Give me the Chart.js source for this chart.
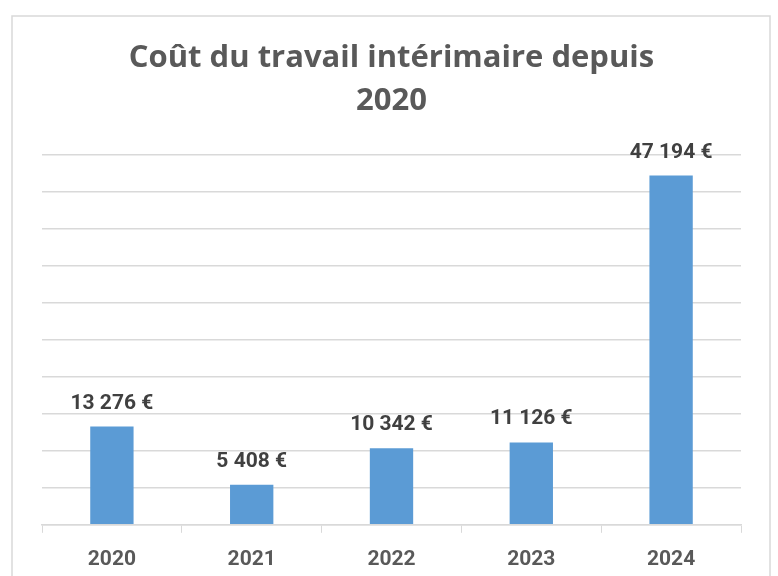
<!DOCTYPE html>
<html>
<head>
<meta charset="utf-8">
<script src="https://cdn.jsdelivr.net/npm/chart.js@4.4.0/dist/chart.umd.min.js"></script>
<style>
  body { margin: 0; background: #fff; }
  #wrap { width: 778px; height: 576px; }
</style>
</head>
<body>
<div id="wrap"><canvas id="costChart" width="778" height="576"></canvas></div>
<script>
const years = ["2020", "2021", "2022", "2023", "2024"];
const costs = [13276, 5408, 10342, 11126, 47194];
const chartTitle = ["Coût du travail intérimaire depuis", "2020"];

const fontName = "Roboto, 'Open Sans', sans-serif";
const titleFont = "'Open Sans', Roboto, sans-serif";

// 13276 -> "13 276 €"
function formatEuro(v) {
  return String(v).replace(/\B(?=(\d{3})+(?!\d))/g, " ") + " €";
}

// frame around the whole chart, like the office chart box
const framePlugin = {
  id: "frame",
  beforeDraw(chart) {
    const ctx = chart.ctx;
    ctx.save();
    ctx.fillStyle = "#fff";
    ctx.fillRect(0, 0, chart.width, chart.height);
    ctx.strokeStyle = "#d9d9d9";
    ctx.lineWidth = 1.5;
    ctx.strokeRect(12, 16, 758, 600);
    ctx.restore();
  }
};

// value labels above each bar
const valueLabels = {
  id: "valueLabels",
  afterDatasetsDraw(chart) {
    const ctx = chart.ctx;
    const meta = chart.getDatasetMeta(0);
    ctx.save();
    ctx.font = "bold 21px " + fontName;
    ctx.fillStyle = "#404040";
    ctx.textAlign = "center";
    ctx.textBaseline = "alphabetic";
    meta.data.forEach((bar, i) => {
      ctx.fillText(formatEuro(costs[i]), bar.x, bar.y - 18);
    });
    ctx.restore();
  }
};

const ctx = document.getElementById("costChart").getContext("2d");
const costChart = new Chart(ctx, {
  type: "bar",
  data: {
    labels: years,
    datasets: [{
      data: costs,
      backgroundColor: "#5b9bd5",
      barPercentage: 0.31,
      categoryPercentage: 1
    }]
  },
  options: {
    responsive: false,
    animation: false,
    layout: { padding: { left: 42, right: 37, top: 0, bottom: -10 } },
    plugins: {
      legend: { display: false },
      tooltip: { enabled: false },
      title: {
        display: true,
        text: chartTitle,
        color: "#595959",
        font: { family: titleFont, size: 31, weight: "bold", lineHeight: 1.4 },
        padding: { top: 36, bottom: 32 }
      }
    },
    scales: {
      x: {
        grid: { drawOnChartArea: false, drawTicks: true, tickLength: 8, color: "#d9d9d9" },
        border: { color: "#d9d9d9", width: 1.5 },
        ticks: {
          color: "#595959",
          padding: 14,
          font: { family: fontName, size: 21, weight: "bold" }
        }
      },
      y: {
        min: 0,
        max: 50000,
        ticks: { display: false, stepSize: 5000 },
        grid: { color: "#d9d9d9", lineWidth: 1.5, drawTicks: false },
        border: { display: false }
      }
    }
  },
  plugins: [framePlugin, valueLabels]
});
</script>
</body>
</html>
